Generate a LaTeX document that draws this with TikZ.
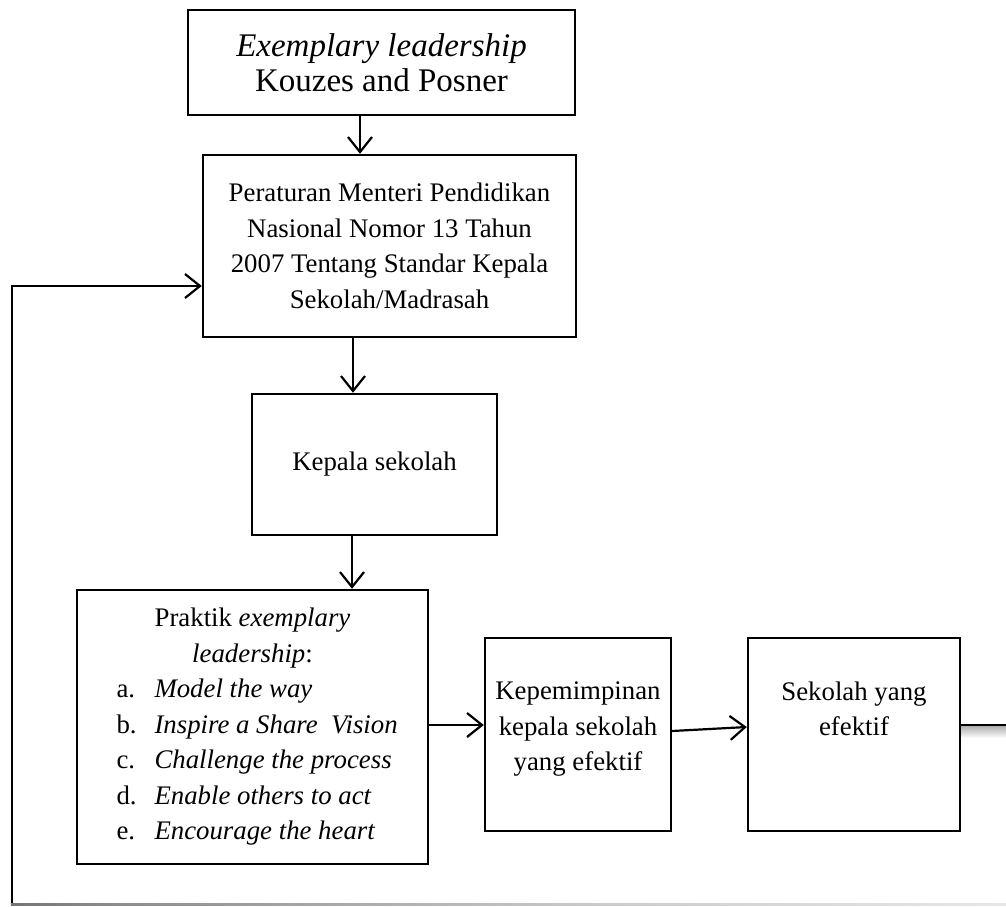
\documentclass[tikz,border=0pt]{standalone}
\usepackage{fontspec}
\setmainfont{Liberation Serif}
\usetikzlibrary{arrows.meta}
\pgfdeclarehorizontalshading{fadeline}{100bp}{color(0bp)=(black); color(30bp)=(black!45); color(55bp)=(black!20); color(80bp)=(black!7); color(100bp)=(black!4)}
\begin{document}
\begin{tikzpicture}[x=1pt,y=-1pt,
  box/.style={draw, line width=2.4pt, inner sep=0pt, align=center, font=\fontsize{26.8}{35.5}\selectfont},
  conn/.style={line width=2.2pt, -{Straight Barb[length=15pt,width=24pt,line width=2.2pt]}},
  plain/.style={line width=2.2pt}]
\useasboundingbox (0,0) rectangle (1006,907);

\node[box, minimum width=387pt, minimum height=105pt, font=\fontsize{33}{35.5}\selectfont] (ex) at (381.5,62.5)
  {\textit{Exemplary leadership}\\Kouzes and Posner};
\node[box, minimum width=373pt, minimum height=182pt] (per) at (389.5,246)
  {Peraturan Menteri Pendidikan\\Nasional Nomor 13 Tahun\\2007 Tentang Standar Kepala\\Sekolah/Madrasah};
\node[box, minimum width=245pt, minimum height=141pt] (kps) at (374.5,464.5) {Kepala sekolah};
\node[box, minimum width=351pt, minimum height=274pt] (pra) at (252.5,727)
  {Praktik \textit{exemplary}\\\textit{leadership}:\\
   \makebox[272pt][l]{\makebox[38pt][l]{a.}\textit{Model the way}}\\
   \makebox[272pt][l]{\makebox[38pt][l]{b.}\textit{Inspire a Share\ \ Vision}}\\
   \makebox[272pt][l]{\makebox[38pt][l]{c.}\textit{Challenge the process}}\\
   \makebox[272pt][l]{\makebox[38pt][l]{d.}\textit{Enable others to act}}\\
   \makebox[272pt][l]{\makebox[38pt][l]{e.}\textit{Encourage the heart}}};
\node[box, minimum width=186pt, minimum height=193pt, text depth=16pt] (kep) at (578,734.5)
  {Kepemimpinan\\kepala sekolah\\yang efektif};
\node[box, minimum width=212pt, minimum height=193pt, text depth=16pt] (sek) at (854,734.5)
  {Sekolah yang\\efektif\\\mbox{}};

\coordinate (a1) at (360,0);
\coordinate (a2) at (353,0);
\coordinate (a3) at (352,0);
\coordinate (y1) at (0,725);
\coordinate (y2) at (0,731);
\coordinate (y3) at (0,727);
\coordinate (redge) at (1006,725);
\coordinate (topl) at (12,286);
\coordinate (botl) at (12,905.7);

\draw[conn] (ex.south -| a1) -- (per.north -| a1);
\draw[conn] (per.south -| a2) -- (kps.north -| a2);
\draw[conn] (kps.south -| a3) -- (pra.north -| a3);
\draw[conn] (pra.east |- y1) -- (kep.west |- y1);
\draw[conn] (kep.east |- y2) -- (sek.west |- y3);

\shade[top color=black!30, bottom color=white] (961,726.5) rectangle (1006,738);
\draw[plain] (sek.east |- redge) -- (redge);

\draw[conn] (botl) -- (topl) -- (per.west |- topl);
\shade[shading=fadeline] (10.9,903.3) rectangle (1006,905.9);
\end{tikzpicture}
\end{document}
